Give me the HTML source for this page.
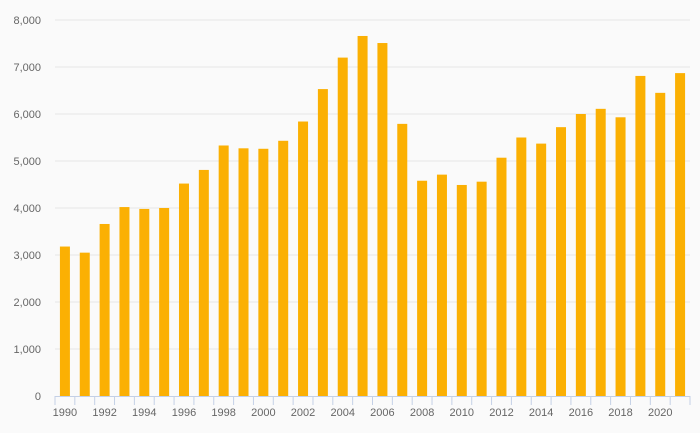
<!DOCTYPE html>
<html><head><meta charset="utf-8"><style>
html,body{margin:0;padding:0;background:#fafafa;}
svg{display:block;font-family:"Liberation Sans",sans-serif;}
</style></head><body>
<svg id="chart" width="700" height="433" viewBox="0 0 700 433">
<rect width="700" height="433" fill="#fafafa"/>
<g id="grid"></g>
<g id="yaxis"></g>
<g id="bars"></g>
<g id="xaxis"></g>
</svg>
<script>
const years = [1990,1991,1992,1993,1994,1995,1996,1997,1998,1999,2000,2001,2002,2003,2004,2005,2006,2007,2008,2009,2010,2011,2012,2013,2014,2015,2016,2017,2018,2019,2020,2021];
const values = [3180,3050,3660,4020,3980,4000,4520,4810,5330,5270,5260,5430,5840,6530,7200,7660,7510,5790,4580,4710,4490,4560,5070,5500,5370,5720,6000,6110,5930,6810,6450,6870];
const yTicks = [0,1000,2000,3000,4000,5000,6000,7000,8000];
const yTickLabels = ["0","1,000","2,000","3,000","4,000","5,000","6,000","7,000","8,000"];

const NS="http://www.w3.org/2000/svg";
const L=55,R=690,T=20,B=396,yMax=8000;
const band=(R-L)/years.length;
const x=i=>L+i*band;
const y=v=>B-(v/yMax)*(B-T);
function mk(tag,attrs,parent){const e=document.createElementNS(NS,tag);for(const k in attrs)e.setAttribute(k,attrs[k]);parent.appendChild(e);return e;}
const grid=document.getElementById('grid'),ya=document.getElementById('yaxis'),bars=document.getElementById('bars'),xa=document.getElementById('xaxis');
yTicks.forEach((t,i)=>{
  if(t>0){const g=mk('line',{x1:L,x2:R,y1:y(t),y2:y(t),stroke:'#e6e6e6','stroke-width':1},grid);
  
  }
  const tx=mk('text',{x:41,y:y(t)+4,'text-anchor':'end','font-size':11,fill:'#666'},ya);
  tx.textContent=yTickLabels[i];
  
  
});
values.forEach((v,i)=>{
  const r=mk('rect',{x:x(i)+band/2-5,y:y(v),width:10,height:B-y(v),fill:'#fbb003'},bars);
  
  
});
const ax=mk('line',{x1:L,x2:R,y1:B+0.5,y2:B+0.5,stroke:'#c4d0e6','stroke-width':1},xa);


for(let i=0;i<=years.length;i++){
  const tk=mk('line',{x1:x(i),x2:x(i),y1:B,y2:B+9,stroke:'#c4d0e6','stroke-width':1},xa);
  
  
}
years.forEach((yr,i)=>{
  if(i%2)return;
  const tx=mk('text',{x:x(i)+band/2,y:416,'text-anchor':'middle','font-size':11,fill:'#666'},xa);
  tx.textContent=yr;
  
  
});
</script>
</body></html>
